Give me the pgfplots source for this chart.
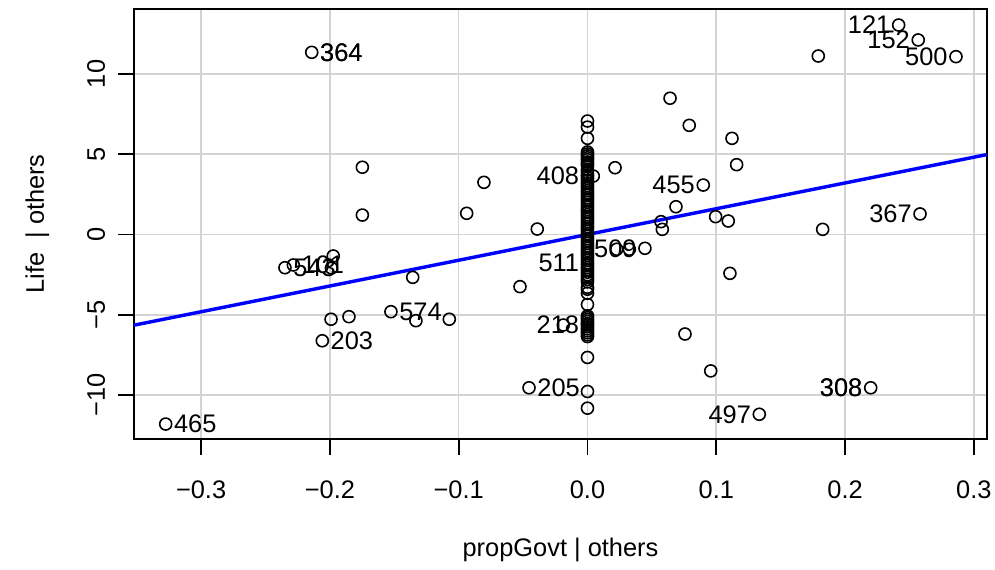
\documentclass[border=0pt]{standalone}
\usepackage{fontspec}
\setmainfont{Liberation Sans}
\usepackage{pgfplots}
\usepackage{pgfplotstable}
\pgfplotsset{compat=1.18}
\definecolor{gridgray}{HTML}{D3D3D3}

% scattered residual pairs
\pgfplotstableread{
x y
-0.2141 11.35
-0.1748 4.19
0.0641 8.49
0.0790 6.80
0.1122 5.99
0.0214 4.16
-0.0804 3.25
0.0045 3.64
0.0899 3.08
0.2416 13.05
0.2568 12.12
0.2861 11.08
0.1792 11.12
0.1158 4.35
0.0995 1.11
0.1093 0.84
0.1826 0.32
0.2582 1.28
-0.1748 1.21
-0.2349 -2.07
-0.2284 -1.90
-0.1974 -1.34
-0.1988 -2.09
-0.2059 -6.62
-0.1991 -5.28
-0.1852 -5.12
-0.1526 -4.81
-0.1332 -5.37
-0.1357 -2.67
-0.3275 -11.81
-0.0938 1.32
-0.0390 0.34
-0.0524 -3.25
-0.1073 -5.28
-0.0188 -5.64
-0.0454 -9.55
0.0227 -0.92
0.0325 -0.92
0.0446 -0.86
0.0571 0.80
0.0581 0.32
0.0687 1.73
0.1106 -2.42
0.0757 -6.20
0.0957 -8.50
0.1334 -11.20
0.2199 -9.55
}\scattered

% cases with propGovt residual of zero
\pgfplotstableread{
x y
0 7.07
0 6.69
0 5.99
0 5.14
0 5.02
0 4.90
0 4.78
0 4.66
0 4.52
0 4.40
0 4.28
0 4.02
0 3.88
0 3.71
0 3.64
0 3.50
0 3.36
0 3.20
0 3.05
0 2.91
0 2.74
0 2.60
0 2.46
0 2.29
0 2.15
0 2.01
0 1.84
0 1.70
0 1.55
0 1.41
0 1.24
0 1.10
0 0.95
0 0.80
0 0.66
0 0.49
0 0.35
0 0.20
0 0.05
0 -0.10
0 -0.26
0 -0.40
0 -0.55
0 -0.71
0 -0.85
0 -1.00
0 -1.16
0 -1.30
0 -1.45
0 -1.61
0 -1.77
0 -1.90
0 -2.06
0 -2.20
0 -2.35
0 -2.51
0 -2.65
0 -2.80
0 -2.95
0 -3.29
0 -3.41
0 -3.66
0 -4.36
0 -5.07
0 -5.18
0 -5.30
0 -5.42
0 -5.55
0 -5.63
0 -5.75
0 -5.88
0 -6.00
0 -6.12
0 -6.25
0 -6.36
0 -7.66
0 -9.78
0 -10.82
}\zerocol

\begin{document}
\begin{tikzpicture}[font=\fontsize{12.7}{15.2}\selectfont,
  lblR/.style={anchor=west, inner sep=0pt, xshift=4pt},
  lblL/.style={anchor=east, inner sep=0pt, xshift=-4pt}]
\begin{axis}[
  scale only axis, width=426.5pt, height=215pt,
  xmin=-0.3521, xmax=0.3102, ymin=-12.74, ymax=14.05,
  xtick={-0.3,-0.2,-0.1,0,0.1,0.2,0.3},
  xticklabels={−0.3,−0.2,−0.1,0.0,0.1,0.2,0.3},
  ytick={-10,-5,0,5,10},
  yticklabels={−10,−5,0,5,10},
  tick align=outside, major tick length=8pt,
  xtick pos=bottom, ytick pos=left,
  grid=major,
  major grid style={draw=gridgray, line width=0.8pt},
  axis line style={line width=0.9pt},
  every tick/.style={black, line width=0.9pt},
  xticklabel style={anchor=base, inner sep=0pt, yshift=-22pt},
  yticklabel style={xshift=-6.5pt, rotate=90, anchor=base, inner sep=0pt},
  clip=false,
]
\coordinate (ll) at (rel axis cs:0,0);
\coordinate (ur) at (rel axis cs:1,1);
\coordinate (bm) at (rel axis cs:0.5,0);
\coordinate (lm) at (rel axis cs:0,0.5);

\addplot[only marks, mark=o, mark size=3pt, mark options={line width=0.8pt, black}] table {\zerocol};
\addplot[only marks, mark=o, mark size=3pt, mark options={line width=0.8pt, black}] table {\scattered};
\addplot[blue, line width=1.7pt] coordinates {(-0.3521,-5.65) (0.3102,4.98)};

% case identifiers (364 and 308 are flagged twice)
\node[lblR] at (axis cs:-0.2141,11.35) {364};
\node[lblR] at (axis cs:-0.2141,11.35) {364};
\node[lblL] at (axis cs:0.2416,13.05) {121};
\node[lblL] at (axis cs:0.2568,12.12) {152};
\node[lblL] at (axis cs:0.2861,11.08) {500};
\node[lblL] at (axis cs:0.2582,1.28) {367};
\node[lblL] at (axis cs:0.0899,3.08) {455};
\node[lblL] at (axis cs:0,3.64) {408};
\node[lblL] at (axis cs:0.0446,-0.86) {509};
\node[lblL] at (axis cs:0,-1.77) {511};
\node[lblL] at (axis cs:0,-5.63) {218};
\node[lblR] at (axis cs:-0.0454,-9.55) {205};
\node[lblL] at (axis cs:0.1334,-11.20) {497};
\node[lblL] at (axis cs:0.2199,-9.55) {308};
\node[lblL] at (axis cs:0.2199,-9.55) {308};
\node[lblR] at (axis cs:-0.3275,-11.81) {465};
\node[lblR] at (axis cs:-0.2059,-6.62) {203};
\node[lblR] at (axis cs:-0.1526,-4.81) {574};
\node[lblR] at (axis cs:-0.2349,-2.07) {543};
\node[lblR] at (axis cs:-0.2284,-1.90) {101};
\end{axis}
\node[anchor=base, inner sep=0pt] at ([yshift=-59pt]bm) {propGovt | others};
\node[rotate=90, anchor=base, inner sep=0pt] at ([xshift=-45pt]lm) {Life \ | others};
\pgfresetboundingbox
\path ([shift={(-67pt,-65.5pt)}]ll) rectangle ([shift={(4pt,4.5pt)}]ur);
\end{tikzpicture}
\end{document}
